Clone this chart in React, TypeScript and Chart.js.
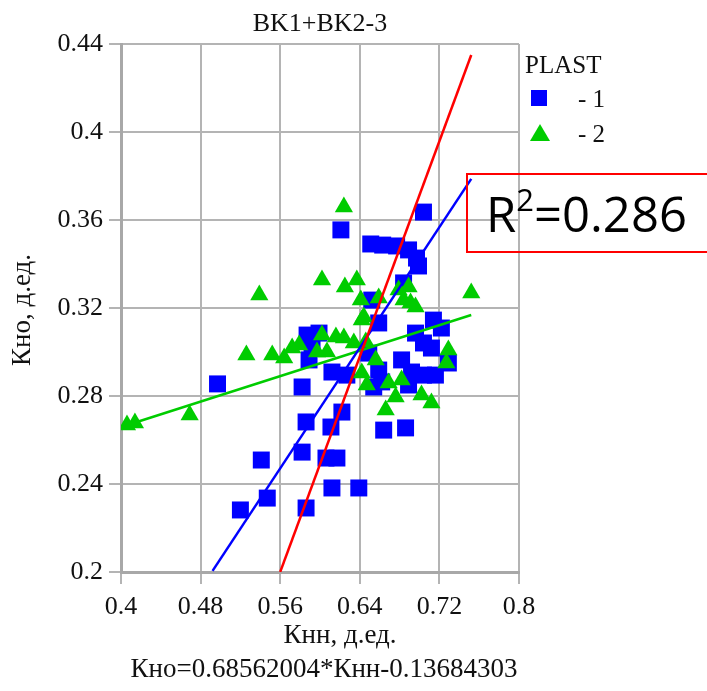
import React, { useEffect, useRef } from "react";
import { Chart, registerables } from "chart.js";

Chart.register(...registerables);

const chartTitle = "BK1+BK2-3";
const xAxisTitle = "Кнн, д.ед.";
const yAxisTitle = "Кно, д.ед.";
const equationText = "Кно=0.68562004*Кнн-0.13684303";
const legendTitle = "PLAST";
const seriesNames = ["- 1", "- 2"];
const r2Text = "0.286";

const xTicks = [0.4, 0.48, 0.56, 0.64, 0.72, 0.8];
const xTickLabels = ["0.4", "0.48", "0.56", "0.64", "0.72", "0.8"];
const yTicks = [0.2, 0.24, 0.28, 0.32, 0.36, 0.4, 0.44];
const yTickLabels = ["0.2", "0.24", "0.28", "0.32", "0.36", "0.4", "0.44"];

// PLAST 1 (blue squares)
const plast1X = [
  0.497, 0.52, 0.547, 0.541, 0.586, 0.582, 0.586, 0.582, 0.611, 0.622,
  0.612, 0.639, 0.606, 0.617, 0.621, 0.651, 0.663, 0.677, 0.689, 0.697,
  0.699, 0.704, 0.684, 0.652, 0.587, 0.599, 0.592, 0.612, 0.627, 0.649,
  0.659, 0.654, 0.659, 0.664, 0.686, 0.714, 0.722, 0.696, 0.704, 0.712,
  0.682, 0.692, 0.704, 0.716, 0.729, 0.662, 0.689, 0.589,
];
const plast1Y = [
  0.2855, 0.2282, 0.2336, 0.2509, 0.2291, 0.2545, 0.2682, 0.2841, 0.2659, 0.2727,
  0.2382, 0.2382, 0.2518, 0.2518, 0.3555, 0.3491, 0.3486, 0.3482, 0.3464, 0.3427,
  0.3391, 0.3636, 0.3314, 0.3236, 0.3077, 0.3086, 0.3032, 0.2909, 0.2895, 0.2995,
  0.2918, 0.2841, 0.3132, 0.2645, 0.2655, 0.3145, 0.3109, 0.3086, 0.3041, 0.3018,
  0.2964, 0.2909, 0.2895, 0.2895, 0.295, 0.2864, 0.285, 0.2964,
];

// PLAST 2 (green triangles)
const plast2X = [
  0.406, 0.414, 0.469, 0.526, 0.552, 0.572, 0.539, 0.602, 0.625, 0.637,
  0.624, 0.752, 0.689, 0.679, 0.684, 0.691, 0.696, 0.641, 0.644, 0.602,
  0.616, 0.624, 0.634, 0.642, 0.597, 0.607, 0.642, 0.647, 0.729, 0.727,
  0.656, 0.682, 0.669, 0.676, 0.702, 0.712, 0.666, 0.564, 0.646, 0.659,
  0.579,
];
const plast2Y = [
  0.2668, 0.2677, 0.2714, 0.2986, 0.2986, 0.3018, 0.3259, 0.3327, 0.3295, 0.3327,
  0.3659, 0.3268, 0.3295, 0.3282, 0.3236, 0.3223, 0.3205, 0.3236, 0.3159, 0.3077,
  0.3068, 0.3064, 0.3041, 0.3145, 0.3, 0.3, 0.2905, 0.285, 0.3009, 0.295,
  0.2964, 0.2873, 0.2859, 0.2795, 0.2805, 0.2768, 0.2736, 0.2973, 0.3045, 0.3245,
  0.3032,
];

// Trend lines (end points)
const redLineX = [0.56, 0.752];
const redLineY = [0.2, 0.435];
const blueLineX = [0.492, 0.752];
const blueLineY = [0.2005, 0.3787];
const greenLineX = [0.401, 0.752];
const greenLineY = [0.266, 0.3168];

const BLUE = "#0000ff";
const GREEN = "#00cc00";
const RED = "#ff0000";
const GRID = "#b4b4b4";
const SERIF = "'Liberation Serif', 'Times New Roman', serif";

const toPts = (xs: number[], ys: number[]) => xs.map((x, i) => ({ x, y: ys[i] }));

const textPlugin = {
  id: "textPlugin",
  afterDraw(chart: any) {
    const ctx = chart.ctx as CanvasRenderingContext2D;
    const a = chart.chartArea;
    const cx = (a.left + a.right) / 2;
    ctx.save();
    ctx.fillStyle = "#111";
    ctx.textBaseline = "alphabetic";
    ctx.textAlign = "center";
    ctx.font = `26px ${SERIF}`;
    ctx.fillText(chartTitle, cx, 31);
    ctx.font = `27px ${SERIF}`;
    ctx.fillText(xAxisTitle, 340, 643);
    ctx.fillText(equationText, 324, 677);
    ctx.save();
    ctx.translate(23, 310);
    ctx.rotate(-Math.PI / 2);
    ctx.textBaseline = "middle";
    ctx.fillText(yAxisTitle, 0, 0);
    ctx.restore();

    // legend
    ctx.textAlign = "left";
    ctx.font = `25px ${SERIF}`;
    ctx.fillText(legendTitle, 525, 73);
    ctx.fillStyle = BLUE;
    ctx.fillRect(531, 90, 16, 16);
    ctx.fillStyle = GREEN;
    ctx.beginPath();
    ctx.moveTo(540, 124);
    ctx.lineTo(550, 141);
    ctx.lineTo(530, 141);
    ctx.closePath();
    ctx.fill();
    ctx.fillStyle = "#111";
    ctx.fillText(seriesNames[0], 578, 107);
    ctx.fillText(seriesNames[1], 578, 142);

    // R2 box
    ctx.strokeStyle = RED;
    ctx.lineWidth = 2;
    ctx.strokeRect(467, 174, 260, 78);
    ctx.fillStyle = "#000";
    ctx.font = `49px 'Open Sans', sans-serif`;
    let x = 486;
    ctx.fillText("R", x, 232);
    x += ctx.measureText("R").width;
    ctx.font = `31px 'Open Sans', sans-serif`;
    ctx.fillText("2", x, 211);
    x += ctx.measureText("2").width;
    ctx.font = `49px 'Open Sans', sans-serif`;
    ctx.fillText("=" + r2Text, x, 232);
    ctx.restore();
  },
};

export default function App() {
  const ref = useRef<HTMLCanvasElement>(null);
  useEffect(() => {
    if (!ref.current) return;
    const lineDs = (xs: number[], ys: number[], color: string, order: number) => ({
      type: "scatter" as const,
      data: toPts(xs, ys),
      showLine: true,
      borderColor: color,
      backgroundColor: color,
      borderWidth: 2.5,
      pointRadius: 0,
      order,
    });
    const chart = new Chart(ref.current, {
      type: "scatter",
      data: {
        datasets: [
          lineDs(redLineX, redLineY, RED, 0),
          lineDs(blueLineX, blueLineY, BLUE, 1),
          lineDs(greenLineX, greenLineY, GREEN, 2),
          {
            data: toPts(plast2X, plast2Y),
            pointStyle: "triangle",
            pointRadius: 10.5,
            backgroundColor: GREEN,
            borderColor: GREEN,
            borderWidth: 0,
            order: 3,
          } as any,
          {
            data: toPts(plast1X, plast1Y),
            pointStyle: "rect",
            pointRadius: 12,
            backgroundColor: BLUE,
            borderColor: BLUE,
            borderWidth: 0,
            order: 4,
          } as any,
        ],
      },
      options: {
        animation: false,
        responsive: false,
        events: [],
        layout: { padding: { left: 0, top: 44, right: 188, bottom: 0 } },
        plugins: { legend: { display: false }, title: { display: false }, tooltip: { enabled: false } },
        scales: {
          x: {
            type: "linear",
            min: xTicks[0],
            max: xTicks[xTicks.length - 1],
            afterFit: (s: any) => { s.height = 119; },
            afterBuildTicks: (s: any) => { s.ticks = xTicks.map((v) => ({ value: v })); },
            ticks: {
              color: "#111",
              font: { family: SERIF, size: 26 },
              padding: 8,
              maxRotation: 0,
              callback: (v: any) => { const i = xTicks.findIndex((t) => Math.abs(t - v) < 1e-6); return i >= 0 ? xTickLabels[i] : ""; },
            },
            grid: { color: GRID, lineWidth: 2, tickLength: 12, tickColor: GRID },
            border: { color: "#a8a8a8", width: 3 },
          },
          y: {
            type: "linear",
            min: yTicks[0],
            max: yTicks[yTicks.length - 1],
            afterFit: (s: any) => { s.width = 121; },
            afterBuildTicks: (s: any) => { s.ticks = yTicks.map((v) => ({ value: v })); },
            ticks: {
              color: "#111",
              font: { family: SERIF, size: 26 },
              padding: 6,
              callback: (v: any) => { const i = yTicks.findIndex((t) => Math.abs(t - v) < 1e-6); return i >= 0 ? yTickLabels[i] : ""; },
            },
            grid: { color: GRID, lineWidth: 2, tickLength: 12, tickColor: GRID },
            border: { color: "#a8a8a8", width: 3 },
          },
        },
      } as any,
      plugins: [textPlugin],
    });
    return () => chart.destroy();
  }, []);
  return (
    <div style={{ position: "absolute", left: 0, top: 0, width: 707, height: 691, background: "#fff" }}>
      <canvas ref={ref} width={707} height={691} />
    </div>
  );
}
